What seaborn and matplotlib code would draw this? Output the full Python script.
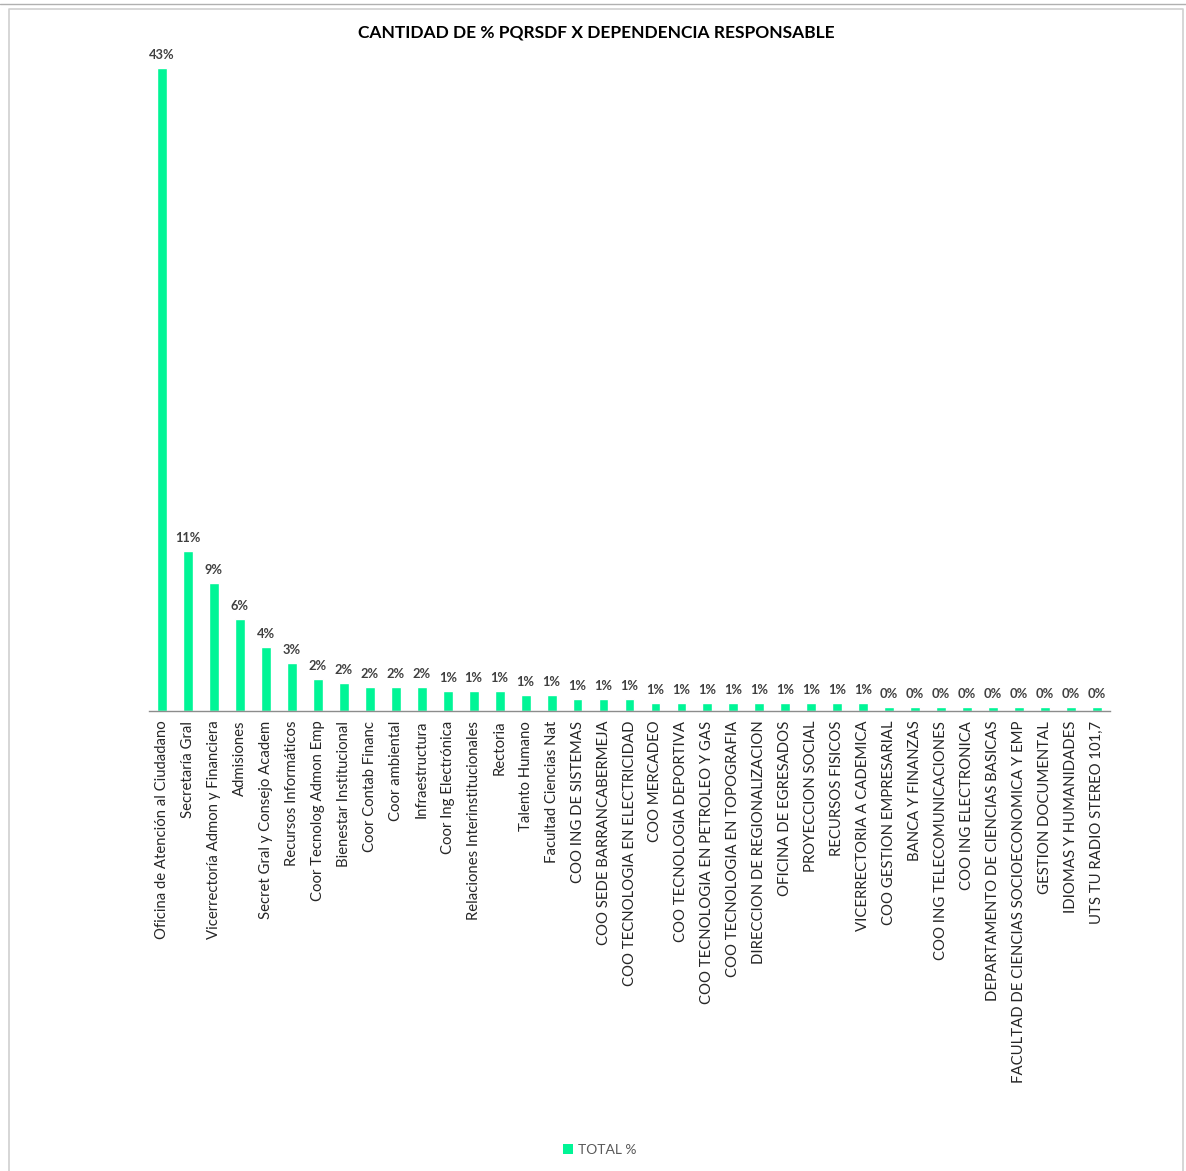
import matplotlib
matplotlib.use("Agg")
import matplotlib.pyplot as plt
from matplotlib.patches import Patch
from matplotlib.lines import Line2D
import seaborn as sns
import pandas as pd

# Dependencias y porcentaje de PQRSDF asignadas a cada una
dependencias = [
    "Oficina de Atención al Ciudadano",
    "Secretaría Gral",
    "Vicerrectoría Admon y Financiera",
    "Admisiones",
    "Secret Gral y Consejo Academ",
    "Recursos Informáticos",
    "Coor Tecnolog Admon Emp",
    "Bienestar Institucional",
    "Coor Contab Financ",
    "Coor ambiental",
    "Infraestructura",
    "Coor Ing Electrónica",
    "Relaciones Interinstitucionales",
    "Rectoria",
    "Talento Humano",
    "Facultad Ciencias Nat",
    "COO ING DE SISTEMAS",
    "COO SEDE BARRANCABERMEJA",
    "COO TECNOLOGIA EN ELECTRICIDAD",
    "COO MERCADEO",
    "COO TECNOLOGIA DEPORTIVA",
    "COO TECNOLOGIA EN PETROLEO Y GAS",
    "COO TECNOLOGIA EN TOPOGRAFIA",
    "DIRECCION DE REGIONALIZACION",
    "OFICINA DE EGRESADOS",
    "PROYECCION SOCIAL",
    "RECURSOS FISICOS",
    "VICERRECTORIA A CADEMICA",
    "COO GESTION EMPRESARIAL",
    "BANCA Y FINANZAS",
    "COO ING TELECOMUNICACIONES",
    "COO ING ELECTRONICA",
    "DEPARTAMENTO DE CIENCIAS BASICAS",
    "FACULTAD DE CIENCIAS SOCIOECONOMICA Y EMP",
    "GESTION DOCUMENTAL",
    "IDIOMAS Y HUMANIDADES",
    "UTS TU RADIO STEREO 101,7",
]

total_pct = [
    0.4282, 0.1064, 0.0851, 0.0612, 0.0426, 0.0319, 0.0213, 0.0186, 0.0160,
    0.0160, 0.0160, 0.0133, 0.0133, 0.0133, 0.0106, 0.0106, 0.0080, 0.0080,
    0.0080, 0.0053, 0.0053, 0.0053, 0.0053, 0.0053, 0.0053, 0.0053, 0.0053,
    0.0053, 0.0027, 0.0027, 0.0027, 0.0027, 0.0027, 0.0027, 0.0027, 0.0027,
    0.0027,
]

serie = "TOTAL %"
titulo = "CANTIDAD DE % PQRSDF X DEPENDENCIA RESPONSABLE"

df = pd.DataFrame({"Dependencia": dependencias, serie: total_pct})

sns.set_style("white")
plt.rcParams["font.family"] = ["Lato", "DejaVu Sans"]

verde = "#00F596"
gris_texto = "#404040"

fig = plt.figure(figsize=(11.86, 11.71), dpi=100)
W, H = 1186, 1171

# marco gris alrededor del gráfico
fig.add_artist(Line2D([0, 1], [1 - 4 / H, 1 - 4 / H], color="#b0b0b0", lw=1.0,
                      transform=fig.transFigure))
fig.add_artist(Line2D([9 / W, 9 / W, 1183 / W, 1183 / W],
                      [0, 1 - 9 / H, 1 - 9 / H, 0],
                      color="#cfcfcf", lw=1.2, transform=fig.transFigure))

ax = fig.add_axes([149 / W, (H - 711) / H, 961 / W, 661 / H])
sns.barplot(data=df, x="Dependencia", y=serie, color=verde, width=0.38,
            saturation=1, ax=ax)

ax.set_xlim(-0.5, len(dependencias) - 0.5)
ax.set_ylim(0, 0.44)
ax.set_xlabel("")
ax.set_ylabel("")
ax.set_yticks([])
for s in ["top", "right", "left"]:
    ax.spines[s].set_visible(False)
ax.spines["bottom"].set_color("#8c8c8c")
ax.spines["bottom"].set_linewidth(1.0)
ax.tick_params(axis="x", length=0, pad=7)
ax.set_xticks(range(len(dependencias)))
ax.set_xticklabels(dependencias, rotation=90, fontsize=10.7, color="#262626",
                   ha="center", va="top")

# etiquetas de datos sobre cada barra
for i, v in enumerate(total_pct):
    ax.annotate(f"{v * 100:.0f}%", (i, v), xytext=(0, 5),
                textcoords="offset points", ha="center", va="bottom",
                fontsize=9.3, fontweight="bold", color=gris_texto,
                annotation_clip=False)

fig.text(596 / W, 1 - 33 / H, titulo, ha="center", va="center",
         fontsize=12.5, fontweight="bold", color="#000000")

fig.legend(handles=[Patch(facecolor=verde, edgecolor="none", label=serie)],
           loc="center", bbox_to_anchor=(600 / W, 1 - 1150 / H),
           frameon=False, fontsize=10, handlelength=0.7, handleheight=0.7,
           handletextpad=0.4, labelcolor="#595959")

fig.savefig("out.png", dpi=100, facecolor="white")
